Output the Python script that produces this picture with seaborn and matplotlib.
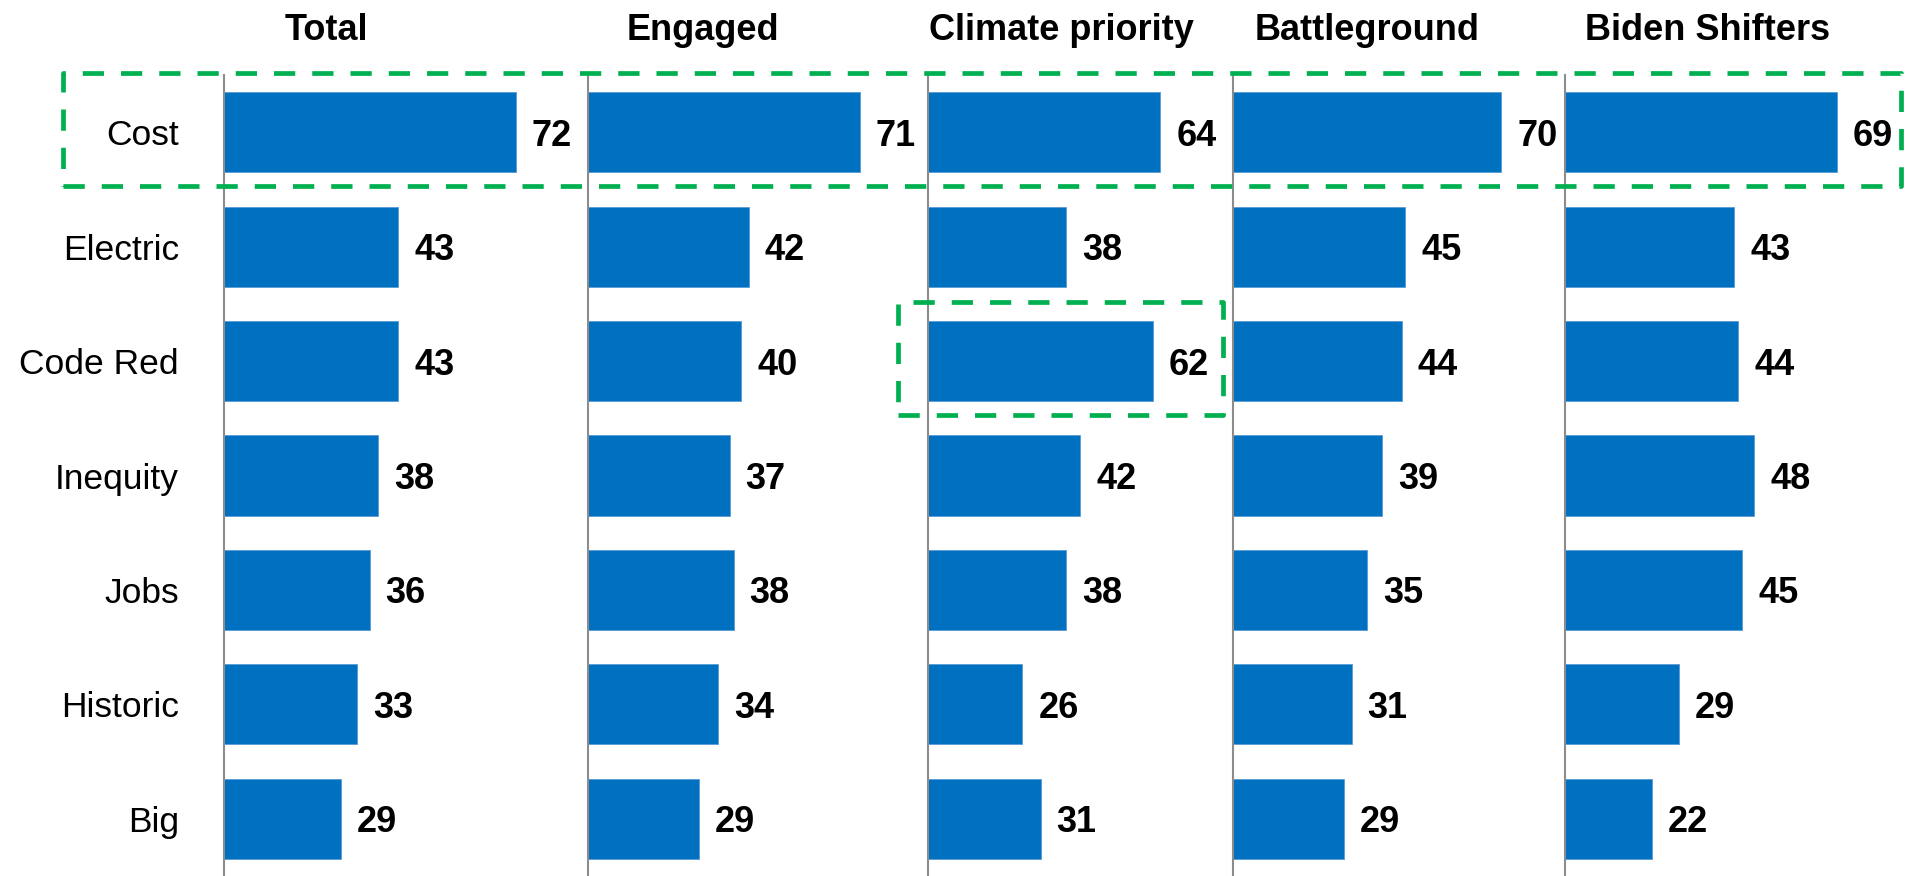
import matplotlib
matplotlib.use("Agg")
import matplotlib.pyplot as plt
from matplotlib.patches import Rectangle
import seaborn as sns
import pandas as pd

sns.set_theme(style="white")
plt.rcParams['font.family'] = ['Liberation Sans', 'DejaVu Sans']

categories = ["Cost", "Electric", "Code Red", "Inequity", "Jobs", "Historic", "Big"]
groups = ["Total", "Engaged", "Climate priority", "Battleground", "Biden Shifters"]
total = [72, 43, 43, 38, 36, 33, 29]
engaged = [71, 42, 40, 37, 38, 34, 29]
climate_priority = [64, 38, 62, 42, 38, 26, 31]
battleground = [70, 45, 44, 39, 35, 31, 29]
biden_shifters = [69, 43, 44, 48, 45, 29, 22]
series = [total, engaged, climate_priority, battleground, biden_shifters]

W, H = 1905, 876
fig = plt.figure(figsize=(W / 100, H / 100), dpi=100)

# layout in pixels
lefts = [223.5, 588, 928, 1233, 1565]
widths = [364.5, 340, 305, 332, 340]
scales = [4.06, 3.83, 3.63, 3.83, 3.94]
title_x = [326, 703, 1061, 1367, 1708]
top_px = 75
bar_color = "#0070C0"

axes = []
for i, (g, vals) in enumerate(zip(groups, series)):
    ax = fig.add_axes([lefts[i] / W, 0, widths[i] / W, (H - top_px) / H])
    ax.patch.set_alpha(0)
    df = pd.DataFrame({"category": categories, "value": vals})
    sns.barplot(data=df, x="value", y="category", orient="h", color=bar_color,
                saturation=1, width=0.7, ax=ax, edgecolor="#5B9BD5", linewidth=0.6)
    ax.set_xlim(0, widths[i] / scales[i])
    ax.set_ylim(6.5, -0.5)
    labels = ax.bar_label(ax.containers[0], padding=11.5, fontsize=26,
                          fontweight="bold", color="black")
    for t in labels:
        t.set_verticalalignment("center_baseline")
    for s in ["top", "right", "bottom"]:
        ax.spines[s].set_visible(False)
    ax.spines["left"].set_color("#8c8c8c")
    ax.spines["left"].set_linewidth(1.5)
    ax.set_xticks([])
    ax.set_xlabel("")
    ax.set_ylabel("")
    ax.tick_params(axis="y", length=0, pad=32, labelsize=25.5, labelcolor="black")
    for t in ax.get_yticklabels():
        t.set_verticalalignment("center_baseline")
    if i > 0:
        ax.set_yticklabels([])
    ax.set_title(g, x=(title_x[i] - lefts[i]) / widths[i], pad=25,
                 fontsize=26, fontweight="bold", color="black")
    axes.append(ax)

# highlight boxes (row index based)
def row_to_figy(ax, row):
    disp = ax.transData.transform((0, row))
    return fig.transFigure.inverted().transform(disp)[1]

green = "#00B050"
def add_box(x0_px, x1_px, ax, row):
    y_top = row_to_figy(ax, row - 0.52)
    y_bot = row_to_figy(ax, row + 0.47)
    box = Rectangle((x0_px / W, y_bot), (x1_px - x0_px) / W, y_top - y_bot,
                    transform=fig.transFigure, fill=False, edgecolor=green,
                    linewidth=3.4, linestyle=(0, (4.5, 3.6)), zorder=10,
                    joinstyle="round")
    fig.patches.append(box)

add_box(63, 1901, axes[0], categories.index("Cost"))
add_box(898, 1223, axes[2], categories.index("Code Red"))

fig.savefig("out.png", dpi=100)
